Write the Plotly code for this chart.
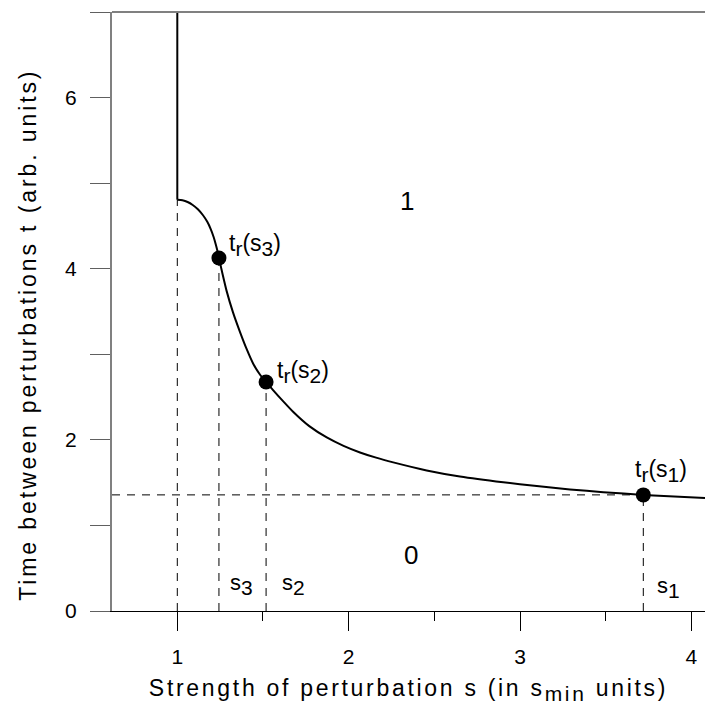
import plotly.graph_objects as go

# ---- data ----
curve_s = [1.0, 1.03, 1.06, 1.09, 1.12, 1.15, 1.175, 1.195, 1.212, 1.225, 1.235, 1.243,
           1.265, 1.288, 1.325, 1.366, 1.405, 1.443, 1.480, 1.518, 1.560, 1.617, 1.677, 1.77,
           1.872, 1.97, 2.066, 2.160, 2.260, 2.455, 2.649, 2.902, 3.097, 3.291, 3.486, 3.719, 4.079]
curve_t = [4.807, 4.800, 4.780, 4.745, 4.695, 4.625, 4.548, 4.463, 4.370, 4.280, 4.200, 4.126,
           3.930, 3.738, 3.490, 3.260, 3.060, 2.890, 2.770, 2.677, 2.578, 2.452, 2.325, 2.160,
           2.028, 1.930, 1.853, 1.792, 1.737, 1.643, 1.572, 1.504, 1.460, 1.421, 1.388, 1.357, 1.320]
s_min = 1.0
t_min_top = 4.807
wall_top = 7.0
point_s = [3.719, 1.518, 1.243]
point_t = [1.357, 2.677, 4.126]
point_names = ["1", "2", "3"]
region_labels = ["1", "0"]
region_s = [2.34, 2.363]
region_t = [4.79, 0.65]
x_ticks = [1, 2, 3, 4]
x_minor = [1.5, 2.5, 3.5]
y_ticks = [0, 1, 2, 3, 4, 5, 6, 7]
y_ticktext = ["0", "", "2", "", "4", "", "6", ""]
x_range = [0.619, 4.079]
y_range = [0, 7]

DASH = "8px,7px"
FONT = "Liberation Sans, Arial, sans-serif"


def sub(t, px):
    return f'<sub><span style="font-size:{px}px">{t}</span></sub>'


fig = go.Figure()

# dashed guide lines
guide_s = [s_min] + point_s
guide_t = [t_min_top] + point_t
for s, t in zip(guide_s, guide_t):
    fig.add_trace(go.Scatter(x=[s, s], y=[0, t], mode="lines",
                             line=dict(color="black", width=1, dash=DASH),
                             hoverinfo="skip", showlegend=False))
fig.add_trace(go.Scatter(x=[x_range[0], point_s[0]], y=[point_t[0], point_t[0]], mode="lines",
                         line=dict(color="black", width=1, dash=DASH),
                         hoverinfo="skip", showlegend=False))

# vertical wall at s_min
fig.add_trace(go.Scatter(x=[s_min, s_min], y=[wall_top, t_min_top], mode="lines",
                         line=dict(color="black", width=2), showlegend=False))
# threshold curve
fig.add_trace(go.Scatter(x=curve_s, y=curve_t, mode="lines",
                         line=dict(color="black", width=2, shape="spline", smoothing=0.5),
                         showlegend=False))
# points
fig.add_trace(go.Scatter(x=point_s, y=point_t, mode="markers",
                         marker=dict(color="black", size=15), showlegend=False))

ann = []
# point labels
pt_label_pos = {"1": (3.659, 1.64), "2": (1.570, 2.79), "3": (1.291, 4.28)}
for n in point_names:
    x, y = pt_label_pos[n]
    ann.append(dict(x=x, y=y, xref="x", yref="y", showarrow=False, xanchor="left", yanchor="middle",
                    text=f"t{sub('r', 21)}(s{sub(n, 21)})",
                    font=dict(family=FONT, size=23, color="black")))
# s labels
s_label_pos = {"1": (3.787, 0.27), "2": (1.599, 0.31), "3": (1.297, 0.31)}
for n in point_names:
    x, y = s_label_pos[n]
    ann.append(dict(x=x, y=y, xref="x", yref="y", showarrow=False, xanchor="left", yanchor="middle",
                    text=f"s{sub(n, 21)}", font=dict(family=FONT, size=22, color="black")))
# region labels
for lab, x, y in zip(region_labels, region_s, region_t):
    ann.append(dict(x=x, y=y, xref="x", yref="y", showarrow=False,
                    text=lab, font=dict(family=FONT, size=26, color="black")))

xtitle = ('<span style="letter-spacing:2.7px">Strength of perturbation s (in s'
          + sub("min", 21) + ' units)</span>')
ytitle = '<span style="letter-spacing:2.9px">Time between perturbations t (arb. units)</span>'

# y-axis title (placed as rotated annotation to match its offset position)
ann.append(dict(x=-0.1417, y=0.461, xref="paper", yref="paper", showarrow=False,
                xanchor="center", yanchor="middle", textangle=-90,
                text=ytitle, font=dict(family=FONT, size=23, color="black")))

fig.update_layout(
    width=705, height=715,
    margin=dict(l=112, r=0, t=12, b=104),
    paper_bgcolor="white", plot_bgcolor="white",
    font=dict(family=FONT, color="black"),
    annotations=ann,
    shapes=[dict(type="line", xref="paper", yref="paper", x0=0, x1=1, y0=1, y1=1,
                 line=dict(color="#808080", width=2))],
    xaxis=dict(range=x_range, showgrid=False, zeroline=False, showline=True,
               linecolor="black", linewidth=1, ticks="outside", ticklen=19,
               tickcolor="black", tickwidth=1, tickvals=x_ticks,
               tickfont=dict(size=21, family=FONT), ticklabelstandoff=8,
               minor=dict(tickvals=x_minor, ticks="outside", ticklen=9, tickcolor="black", tickwidth=1),
               title=dict(text=xtitle, font=dict(size=23, family=FONT), standoff=12)),
    yaxis=dict(range=y_range, showgrid=False, zeroline=False, showline=True,
               linecolor="#808080", linewidth=2, ticks="outside", ticklen=20,
               tickcolor="#606060", tickwidth=1, tickvals=y_ticks, ticktext=y_ticktext,
               tickfont=dict(size=21, family=FONT), ticklabelstandoff=9),
)

fig.write_html("out.html")
